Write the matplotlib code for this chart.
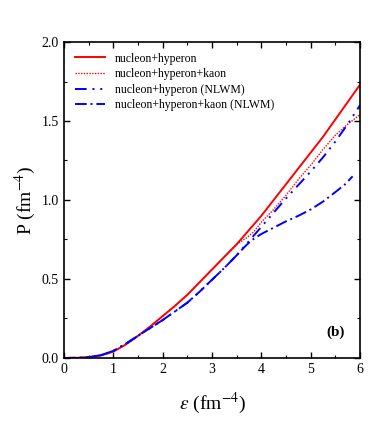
import matplotlib
matplotlib.use("Agg")
import matplotlib.pyplot as plt
from matplotlib.ticker import MultipleLocator, FormatStrFormatter

plt.rcParams["font.family"] = ["Liberation Serif", "DejaVu Serif"]
plt.rcParams["mathtext.fontset"] = "stix"

# energy density (fm^-4) and pressure (fm^-4)
eps = [0, 0.25, 0.5, 0.75, 1, 1.25, 1.5, 1.75, 2, 2.25, 2.5, 2.75, 3, 3.25,
       3.5, 3.75, 4, 4.25, 4.5, 4.75, 5, 5.25, 5.5, 5.75, 6]
p_hyp = [0, 0.001, 0.005, 0.016, 0.04, 0.085, 0.14, 0.20, 0.265, 0.33, 0.40,
         0.48, 0.56, 0.64, 0.72, 0.81, 0.90, 1.00, 1.10, 1.20, 1.30, 1.40,
         1.51, 1.62, 1.73]
p_hyp_nlwm = [0, 0.001, 0.005, 0.018, 0.045, 0.09, 0.14, 0.19, 0.24, 0.295,
              0.35, 0.42, 0.495, 0.57, 0.65, 0.74, 0.83, 0.92, 1.01, 1.095,
              1.18, 1.27, 1.37, 1.48, 1.60]

eps_kaon = [0, 0.25, 0.5, 0.75, 1, 1.25, 1.5, 1.75, 2, 2.25, 2.5, 2.75, 3,
            3.25, 3.5, 3.7, 3.85, 4, 4.25, 4.5, 4.75, 5, 5.25, 5.5, 5.75, 6]
p_kaon = [0, 0.001, 0.005, 0.016, 0.04, 0.085, 0.14, 0.20, 0.265, 0.33, 0.40,
          0.48, 0.56, 0.64, 0.72, 0.76, 0.80, 0.86, 0.94, 1.03, 1.13, 1.22,
          1.32, 1.41, 1.48, 1.54]

eps_kaon_nlwm = [0, 0.25, 0.5, 0.75, 1, 1.25, 1.5, 1.75, 2, 2.25, 2.5, 2.75,
                 3, 3.25, 3.5, 3.65, 3.8, 4, 4.25, 4.5, 4.75, 5, 5.25, 5.5,
                 5.7, 5.85]
p_kaon_nlwm = [0, 0.001, 0.005, 0.018, 0.045, 0.09, 0.14, 0.19, 0.24, 0.295,
               0.35, 0.42, 0.495, 0.57, 0.65, 0.70, 0.745, 0.785, 0.825, 0.865,
               0.90, 0.94, 0.99, 1.05, 1.10, 1.15]

fig = plt.figure(figsize=(3.82, 4.23), dpi=100)
ax = fig.add_axes([0.1675, 0.1537, 0.775, 0.747])

ax.plot(eps, p_hyp, color="red", lw=1.4, label="nucleon+hyperon")
ax.plot(eps_kaon, p_kaon, color="red", lw=1.0, ls=(0, (1, 1)),
        label="nucleon+hyperon+kaon")
ax.plot(eps, p_hyp_nlwm, color="blue", lw=1.4, ls=(0, (6, 3, 1, 3, 1, 3)),
        label="nucleon+hyperon (NLWM)")
ax.plot(eps_kaon_nlwm, p_kaon_nlwm, color="blue", lw=1.4,
        ls=(0, (6, 2, 1, 2)), label="nucleon+hyperon+kaon (NLWM)")

ax.set_xlim(0, 6)
ax.set_ylim(0, 2.0)
ax.xaxis.set_major_locator(MultipleLocator(1))
ax.xaxis.set_minor_locator(MultipleLocator(0.5))
ax.yaxis.set_major_locator(MultipleLocator(0.5))
ax.yaxis.set_minor_locator(MultipleLocator(0.25))
ax.yaxis.set_major_formatter(FormatStrFormatter("%.1f"))
ax.tick_params(which="both", direction="in", top=True, right=True, labelsize=10)
ax.tick_params(which="major", length=4, width=1)
ax.tick_params(which="minor", length=2, width=0.8)
for s in ax.spines.values():
    s.set_linewidth(1.2)

ax.set_xlabel(r"$\varepsilon$ (fm$^{-4}$)", fontsize=14, labelpad=11)
ax.set_ylabel(r"P (fm$^{-4}$)", fontsize=14, labelpad=3)

ax.text(0.95, 0.06, "(b)", transform=ax.transAxes, fontsize=11,
        fontweight="bold", ha="right", va="bottom")

ax.legend(loc="upper left", frameon=False, fontsize=8.5, handlelength=2.6,
          borderaxespad=0.5, labelspacing=0.3, handletextpad=0.8)

fig.savefig("out.png", dpi=100)
